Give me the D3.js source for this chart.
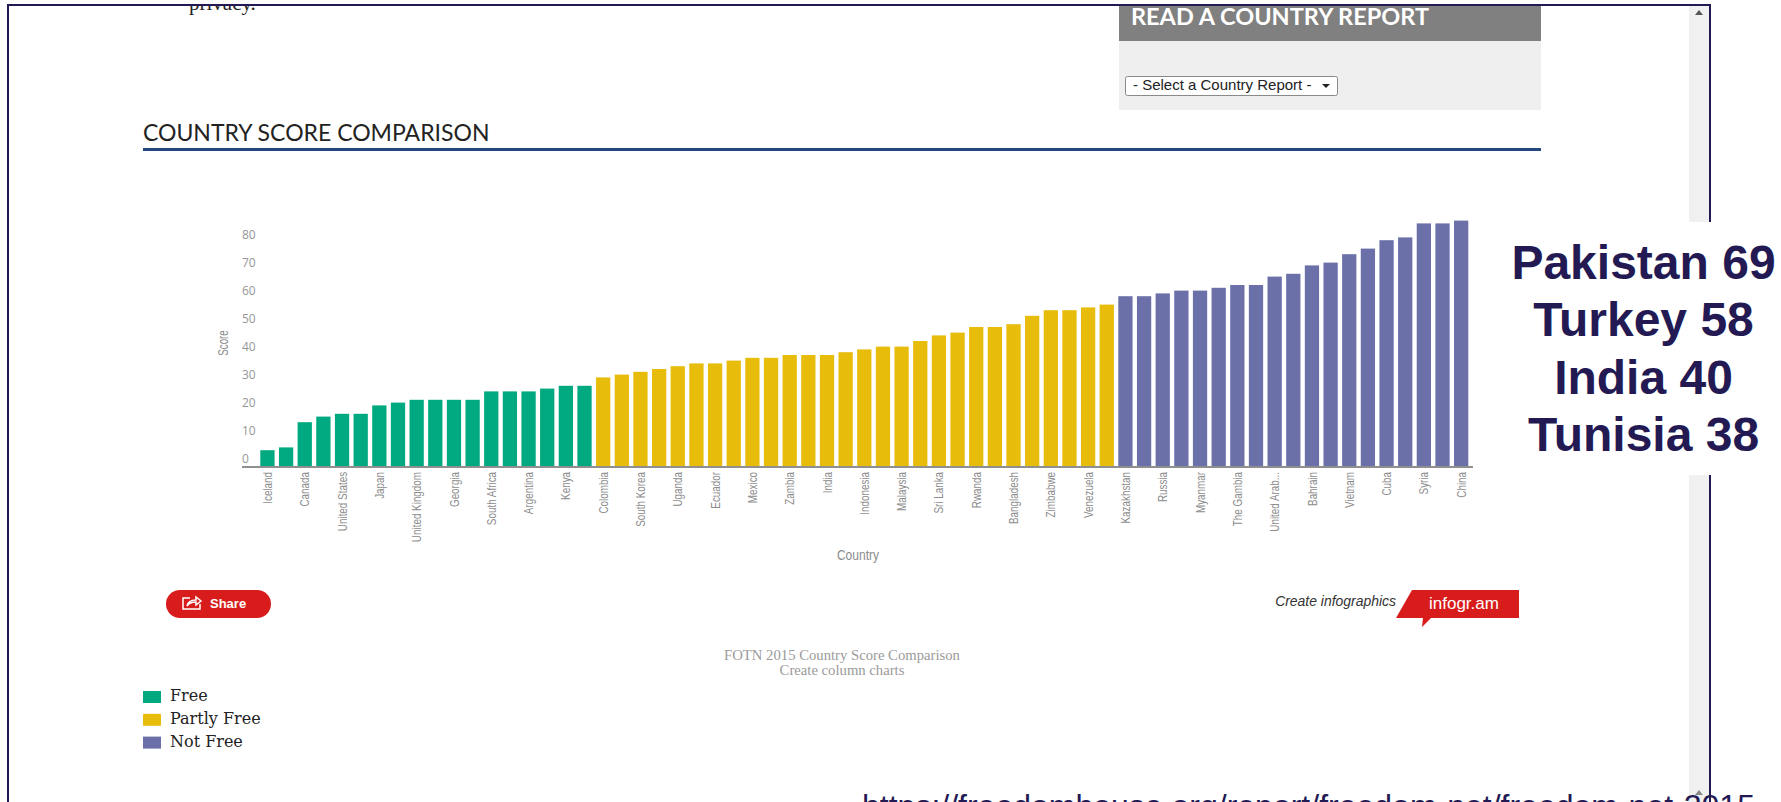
<!DOCTYPE html>
<html>
<head>
<meta charset="utf-8">
<script src="https://d3js.org/d3.v7.min.js"></script>
<style>
html, body { margin: 0; padding: 0; background: #fff; overflow: hidden; }
svg { display: block; }
</style>
</head>
<body>
<svg></svg>
<script>
// every bar, left to right; only every second bar has a label in the picture
var freeScores = [6, 7, 16, 18, 19, 19, 22, 23, 24, 24, 24, 24, 27, 27, 27, 28, 29, 29];
var partlyScores = [32, 33, 34, 35, 36, 37, 37, 38, 39, 39, 40, 40, 40, 41, 42, 43, 43, 45,
                    47, 48, 50, 50, 51, 54, 56, 56, 57, 58];
var notFreeScores = [61, 61, 62, 63, 63, 64, 65, 65, 68, 69, 72, 73, 76, 78, 81, 82, 87, 87, 88];

var countryLabels = ["Iceland", "Canada", "United States", "Japan", "United Kingdom", "Georgia",
    "South Africa", "Argentina", "Kenya", "Colombia", "South Korea", "Uganda", "Ecuador", "Mexico",
    "Zambia", "India", "Indonesia", "Malaysia", "Sri Lanka", "Rwanda", "Bangladesh", "Zimbabwe",
    "Venezuela", "Kazakhstan", "Russia", "Myanmar", "The Gambia", "United Arab...", "Bahrain",
    "Vietnam", "Cuba", "Syria", "China"];

var scoreTicks = [0, 10, 20, 30, 40, 50, 60, 70, 80];
var legendLabels = ["Free", "Partly Free", "Not Free"];
var legendColors = ["#00a97f", "#e8bc0a", "#6b70a8"];
var calloutLines = ["Pakistan 69", "Turkey 58", "India 40", "Tunisia 38"];

var w = 1781,
    h = 802,
    navy = "#231a54",
    sans = "'Liberation Sans', sans-serif",
    serif = "'Liberation Serif', serif";

var svg = d3.select("svg").attr("width", w).attr("height", h);

var bars = [];
[freeScores, partlyScores, notFreeScores].forEach(function(list, g) {
    list.forEach(function(d) { bars.push({score: d, group: g}); });
});

// page behind the chart, cut off by the slide frame
svg.append("clipPath").attr("id", "page")
    .append("rect").attr("x", 9).attr("y", 6).attr("width", 1700).attr("height", 796);
var page = svg.append("g").attr("clip-path", "url(#page)");

page.append("text").text("privacy.")
    .attr("x", 189).attr("y", 10)
    .attr("font-family", serif).attr("font-size", 21).attr("fill", "#222");

// scrollbar
page.append("rect").attr("x", 1689).attr("y", 0).attr("width", 21).attr("height", h).attr("fill", "#f0f0f0");
page.append("path").attr("d", "M1695,15 L1703,15 L1699,10 Z").attr("fill", "#555");
page.append("path").attr("d", "M1695,795 L1703,795 L1699,790 Z").attr("fill", "#888");

// report box
page.append("rect").attr("x", 1119).attr("y", 0).attr("width", 422).attr("height", 110).attr("fill", "#efefef");
page.append("rect").attr("x", 1119).attr("y", 0).attr("width", 422).attr("height", 41).attr("fill", "#808080");
page.append("text").text("READ A COUNTRY REPORT")
    .attr("x", 1131).attr("y", 25)
    .attr("font-family", "Lato, sans-serif").attr("font-weight", 700).attr("font-size", 23.5).attr("fill", "#fff");
page.append("rect").attr("x", 1125.5).attr("y", 76.5).attr("width", 212).attr("height", 19).attr("rx", 2)
    .attr("fill", "#fff").attr("stroke", "#8a8a8a");
page.append("text").text("- Select a Country Report -")
    .attr("x", 1133).attr("y", 90)
    .attr("font-family", sans).attr("font-size", 15).attr("fill", "#222");
page.append("path").attr("d", "M1322,84 L1330,84 L1326,88 Z").attr("fill", "#222");

// section heading
svg.append("text").text("COUNTRY SCORE COMPARISON")
    .attr("x", 143).attr("y", 141)
    .attr("font-family", "Lato, sans-serif").attr("font-size", 23).attr("fill", "#222");
svg.append("rect").attr("x", 143).attr("y", 148).attr("width", 1398).attr("height", 3).attr("fill", "#23487f");

// chart
var x = d3.scaleBand()
    .domain(d3.range(bars.length))
    .range([260.3, 1468.3])
    .paddingInner(0.235);

var y = d3.scaleLinear()
    .domain([0, 80])
    .range([467, 243]);

svg.selectAll("rect.bar")
    .data(bars)
    .enter()
    .append("rect")
    .attr("class", "bar")
    .attr("x", function(d, i) { return x(i); })
    .attr("y", function(d) { return y(d.score); })
    .attr("width", x.bandwidth())
    .attr("height", function(d) { return y(0) - y(d.score); })
    .attr("fill", function(d) { return legendColors[d.group]; });

var yAxis = d3.axisLeft(y).tickValues(scoreTicks).tickSize(0).tickPadding(0);
var yG = svg.append("g").attr("transform", "translate(242,0)").call(yAxis);
yG.select(".domain").remove();
yG.selectAll("text")
    .attr("text-anchor", "start")
    .attr("dy", "-0.35em")
    .attr("x", 0)
    .attr("font-family", "'Open Sans', sans-serif")
    .attr("font-size", 12)
    .attr("fill", "#969696");

// no narrow face is installed, so the labels are squeezed along their length
var xAxis = d3.axisBottom(x)
    .tickValues(d3.range(0, bars.length, 2))
    .tickSize(0)
    .tickFormat(function(i) { return countryLabels[i / 2]; });
var xG = svg.append("g").attr("transform", "translate(0,467)").call(xAxis);
xG.select(".domain").remove();
xG.selectAll("text")
    .attr("transform", "rotate(-90) scale(0.76,1)")
    .attr("text-anchor", "end")
    .attr("x", -6.5)
    .attr("y", 0)
    .attr("dy", "0.35em")
    .attr("font-family", sans)
    .attr("font-size", 13)
    .attr("fill", "#8c8c8c");

svg.append("rect").attr("x", 242).attr("y", 466).attr("width", 1231).attr("height", 2).attr("fill", "#8f8f8f");

svg.append("text").text("Score")
    .attr("transform", "translate(228,343) rotate(-90) scale(0.7,1)")
    .attr("text-anchor", "middle")
    .attr("font-family", sans).attr("font-size", 14).attr("fill", "#8c8c8c");
svg.append("text").text("Country")
    .attr("transform", "translate(858,560) scale(0.86,1)")
    .attr("text-anchor", "middle")
    .attr("font-family", sans).attr("font-size", 14).attr("fill", "#8c8c8c");

// share button
svg.append("rect").attr("x", 166).attr("y", 590).attr("width", 105).attr("height", 28).attr("rx", 14).attr("fill", "#d81c1c");
svg.append("path")
    .attr("d", "M190,598 H183 V609 H200 V604 M187,606 C188,601 192,600 196,600 V597 L201,601 L196,605 V602 C192,602 189,603 187,606")
    .attr("fill", "none").attr("stroke", "#fff").attr("stroke-width", 1.5);
svg.append("text").text("Share")
    .attr("x", 210).attr("y", 608)
    .attr("font-family", sans).attr("font-weight", 700).attr("font-size", 13).attr("fill", "#fff");

// infogr.am badge
svg.append("text").text("Create infographics")
    .attr("transform", "translate(1396,606) scale(0.93,1)")
    .attr("text-anchor", "end")
    .attr("font-family", sans).attr("font-style", "italic").attr("font-size", 15).attr("fill", "#333");
svg.append("path").attr("d", "M1412,590 H1519 V618 H1431 L1422,627 L1423,618 H1396 Z").attr("fill", "#d81c1c");
svg.append("text").text("infogr.am")
    .attr("x", 1429).attr("y", 609)
    .attr("font-family", sans).attr("font-size", 17).attr("fill", "#fff");

// caption
svg.append("text").text("FOTN 2015 Country Score Comparison")
    .attr("x", 842).attr("y", 660).attr("text-anchor", "middle")
    .attr("font-family", serif).attr("font-size", 14.7).attr("fill", "#9a9a9a");
svg.append("text").text("Create column charts")
    .attr("x", 842).attr("y", 675).attr("text-anchor", "middle")
    .attr("font-family", serif).attr("font-size", 14.7).attr("fill", "#9a9a9a");

// legend
var legend = svg.selectAll("g.legend")
    .data(legendLabels)
    .enter()
    .append("g")
    .attr("class", "legend")
    .attr("transform", function(d, i) { return "translate(143," + (691 + i * 22.8) + ")"; });
legend.append("rect")
    .attr("width", 18).attr("height", 12)
    .attr("fill", function(d, i) { return legendColors[i]; });
legend.append("text")
    .text(function(d) { return d; })
    .attr("x", 27).attr("y", 10)
    .attr("font-family", "'DejaVu Serif', serif").attr("font-size", 16).attr("fill", "#222");

// frame of the slide
svg.append("rect").attr("x", 7).attr("y", 4).attr("width", 2).attr("height", 798).attr("fill", navy);
svg.append("rect").attr("x", 7).attr("y", 4).attr("width", 1704).attr("height", 2).attr("fill", navy);
svg.append("rect").attr("x", 1709).attr("y", 4).attr("width", 2).attr("height", 798).attr("fill", navy);

// callout on top
svg.append("rect").attr("x", 1480).attr("y", 222).attr("width", 301).attr("height", 253).attr("fill", "#fff");
svg.selectAll("text.callout")
    .data(calloutLines)
    .enter()
    .append("text")
    .attr("class", "callout")
    .text(function(d) { return d; })
    .attr("x", 1643.5)
    .attr("y", function(d, i) { return 279 + i * 57.4; })
    .attr("text-anchor", "middle")
    .attr("font-family", sans)
    .attr("font-weight", 700)
    .attr("font-size", 48)
    .attr("fill", navy);

svg.append("text").text("https://freedomhouse.org/report/freedom-net/freedom-net-2015")
    .attr("x", 862).attr("y", 817)
    .attr("font-family", sans)
    .attr("font-size", 32)
    .attr("fill", navy);
</script>
</body>
</html>
